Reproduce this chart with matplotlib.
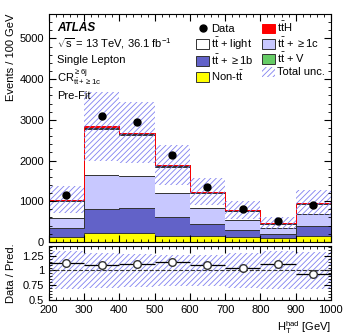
import numpy as np
import matplotlib
matplotlib.use("Agg")
import matplotlib.pyplot as plt
from matplotlib.patches import Patch
from matplotlib.lines import Line2D
from matplotlib.ticker import MultipleLocator

plt.rcParams['font.family'] = ['Liberation Sans', 'DejaVu Sans']
plt.rcParams['mathtext.fontset'] = 'custom'
plt.rcParams['mathtext.rm'] = 'Liberation Sans'
plt.rcParams['mathtext.it'] = 'Liberation Sans:italic'
plt.rcParams['mathtext.default'] = 'regular'
plt.rcParams['hatch.linewidth'] = 0.6

# bin edges in H_T^had [GeV]
edges = [200, 300, 400, 500, 600, 700, 800, 900, 1000]

# data and pre-fit components (events / 100 GeV)
data = [1156, 3094, 2953, 2146, 1344, 809, 513, 908]
non_tt = [131, 223, 223, 148, 145, 110, 85, 140]
tt_1b = [198, 586, 601, 463, 293, 180, 106, 249]
tt_1c = [248, 842, 802, 589, 396, 247, 156, 287]
tt_light = [435, 1128, 995, 641, 374, 220, 103, 265]
tt_v = [10, 30, 30, 20, 15, 9, 6, 12]
tt_h = [10, 30, 30, 20, 15, 9, 7, 12]
# relative total uncertainty per bin
rel_unc = [0.32, 0.30, 0.28, 0.26, 0.26, 0.29, 0.32, 0.31]

fig = plt.figure(figsize=(3.49, 3.35), dpi=100)
ax = fig.add_axes([0.140, 0.278, 0.808, 0.680])
rx = fig.add_axes([0.140, 0.104, 0.808, 0.163])

comps = [(non_tt, '#ffff00'), (tt_1b, '#6262c8'), (tt_1c, '#c8c8ff'),
         (tt_light, '#ffffff'), (tt_v, '#66cc66'), (tt_h, '#ff0000')]
base = np.zeros(len(data))
for vals, col in comps:
    top = base + np.array(vals)
    ax.stairs(top, edges, baseline=base, fill=True, color=col, lw=0)
    ax.stairs(top, edges, baseline=None, color='#333333', lw=0.7)
    base = top
total = base
ax.stairs(total, edges, baseline=None, color='#ff0000', lw=0.7)

unc = total * np.array(rel_unc)
ax.stairs(total + unc, edges, baseline=total - unc, fill=True, facecolor='none',
          edgecolor='#8080f0', hatch='//////', lw=0)

centers = 0.5 * (np.array(edges[:-1]) + np.array(edges[1:]))
ax.plot(centers, data, 'o', color='black', ms=5, zorder=10)

ax.set_xlim(200, 1000)
ax.set_ylim(0, 5600)
ax.xaxis.set_major_locator(MultipleLocator(100))
ax.xaxis.set_minor_locator(MultipleLocator(20))
ax.yaxis.set_major_locator(MultipleLocator(1000))
ax.yaxis.set_minor_locator(MultipleLocator(200))
ax.tick_params(which='both', direction='in', top=True, right=True, labelsize=8)
ax.tick_params(which='major', length=5)
ax.tick_params(which='minor', length=2.5)
ax.set_xticklabels([])
ax.set_ylabel('Events / 100 GeV', fontsize=8, loc='top')

tx = 0.03
ax.text(tx, 0.925, 'ATLAS', transform=ax.transAxes, fontsize=8.5,
        fontweight='bold', fontstyle='italic')
ax.text(tx, 0.855, r'$\sqrt{s}$ = 13 TeV, 36.1 fb$^{-1}$', transform=ax.transAxes, fontsize=8)
ax.text(tx, 0.785, 'Single Lepton', transform=ax.transAxes, fontsize=8)
ax.text(tx, 0.70, r'CR$^{\geq 6j}_{t\bar{t}+\geq 1c}$', transform=ax.transAxes, fontsize=8)
ax.text(tx, 0.625, 'Pre-Fit', transform=ax.transAxes, fontsize=8)

tt = r'$t\bar{t}$'
handles = [
    Line2D([], [], marker='o', ls='none', color='black', ms=5),
    Patch(facecolor='#ffffff', edgecolor='#333333', lw=0.7),
    Patch(facecolor='#6262c8', edgecolor='#333333', lw=0.7),
    Patch(facecolor='#ffff00', edgecolor='#333333', lw=0.7),
    Patch(facecolor='#ff0000', edgecolor='#ff0000', lw=0.7),
    Patch(facecolor='#c8c8ff', edgecolor='#333333', lw=0.7),
    Patch(facecolor='#66cc66', edgecolor='#333333', lw=0.7),
    Patch(facecolor='none', edgecolor='#8080f0', hatch='//////', lw=0),
]
labels = ['Data', tt + ' + light', tt + r' + $\geq$1b', 'Non-' + tt,
          tt + 'H', tt + r' + $\geq$1c', tt + ' + V', 'Total unc.']
ax.legend(handles, labels, ncol=2, loc='upper right', bbox_to_anchor=(1.0, 1.0),
          frameon=False, fontsize=8, handlelength=1.1, handleheight=1.0,
          handletextpad=0.2, columnspacing=0.8, labelspacing=0.12, borderaxespad=0.15)

# ratio panel
ratio = np.array(data) / total
rx.stairs(1 + np.array(rel_unc), edges, baseline=1 - np.array(rel_unc), fill=True,
          facecolor='none', edgecolor='#8080f0', hatch='//////', lw=0)
rx.axhline(1, color='#333333', ls='--', lw=0.8)
rx.errorbar(centers, ratio, xerr=50, fmt='o', color='black', mfc='white',
            mec='#333333', ms=5.5, elinewidth=0.9, capsize=0, zorder=10)
rx.set_xlim(200, 1000)
rx.set_ylim(0.5, 1.42)
rx.xaxis.set_major_locator(MultipleLocator(100))
rx.xaxis.set_minor_locator(MultipleLocator(20))
rx.set_yticks([0.5, 0.75, 1, 1.25])
rx.set_yticklabels(['0.5', '0.75', '1', '1.25'])
rx.yaxis.set_minor_locator(MultipleLocator(0.05))
rx.tick_params(which='both', direction='in', top=True, right=True, labelsize=8)
rx.tick_params(which='major', length=5)
rx.tick_params(which='minor', length=2.5)
rx.set_ylabel('Data / Pred.', fontsize=8)
rx.yaxis.set_label_coords(-0.115, 0.5)
ax.yaxis.set_label_coords(-0.115, 1.0)
rx.set_xlabel(r'$H_{T}^{had}$ [GeV]', fontsize=8, loc='right', labelpad=3)

fig.savefig('out.png', dpi=100)
